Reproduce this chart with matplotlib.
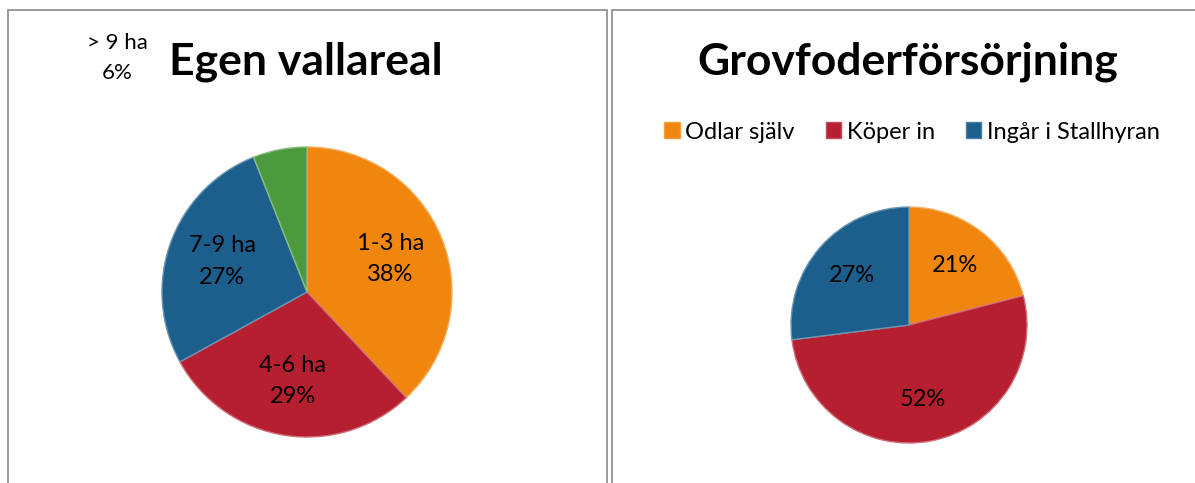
import matplotlib
matplotlib.use("Agg")
import matplotlib.pyplot as plt
from matplotlib.patches import Rectangle
import numpy as np

plt.rcParams["font.family"] = ["Lato", "DejaVu Sans"]

# Left chart: Egen vallareal
area_labels = ["1-3 ha", "4-6 ha", "7-9 ha", "> 9 ha"]
area_values = [38, 29, 27, 6]
area_colors = ["#F0860E", "#B51F30", "#1C5E8C", "#4C9A3E"]

# Right chart: Grovfoderförsörjning
feed_labels = ["Odlar själv", "Köper in", "Ingår i Stallhyran"]
feed_values = [21, 52, 27]
feed_colors = ["#F0860E", "#B51F30", "#1C5E8C"]

W, H = 1195, 483
fig = plt.figure(figsize=(W / 100, H / 100), dpi=100)


def px_axes(left, top, size):
    return fig.add_axes([left / W, (H - top - size) / H, size / W, size / H])


# panel borders
for x0, x1 in [(8, 607), (612, 1205)]:
    fig.patches.append(Rectangle((x0 / W, -0.05), (x1 - x0) / W, (H - 10) / H + 0.05,
                                 transform=fig.transFigure, fill=False,
                                 edgecolor="#8a8a8a", linewidth=1.2))


def lighten(c, f=0.35):
    rgb = np.array(matplotlib.colors.to_rgb(c))
    return tuple(rgb + (1 - rgb) * f)


# ---- left pie
ax1 = px_axes(162, 147, 290)
wedges, _ = ax1.pie(area_values, colors=area_colors, startangle=90, counterclock=False,
                    wedgeprops=dict(edgecolor="none"))
for w, c in zip(wedges, area_colors):
    w.set_edgecolor(lighten(c))
    w.set_linewidth(1.0)
for w, lab, v in list(zip(wedges, area_labels, area_values))[:3]:
    ang = np.deg2rad((w.theta1 + w.theta2) / 2)
    ax1.text(0.62 * np.cos(ang), 0.62 * np.sin(ang), f"{lab}\n{v}%",
             ha="center", va="center", fontsize=17, linespacing=1.6)
ax1.set_xlim(-1, 1)
ax1.set_ylim(-1, 1)
ax1.axis("off")
fig.text(117 / W, 1 - 58 / H, f"{area_labels[3]}\n{area_values[3]}%",
         ha="center", va="center", fontsize=16, linespacing=1.6)
fig.text(306 / W, 1 - 62 / H, "Egen vallareal", ha="center", va="center",
         fontsize=32, fontweight="bold")

# ---- right pie
ax2 = px_axes(791, 207, 236)
wedges2, _ = ax2.pie(feed_values, colors=feed_colors, startangle=90, counterclock=False,
                     wedgeprops=dict(edgecolor="none"))
for w, c in zip(wedges2, feed_colors):
    w.set_edgecolor(lighten(c))
    w.set_linewidth(1.0)
for w, v in zip(wedges2, feed_values):
    ang = np.deg2rad((w.theta1 + w.theta2) / 2)
    ax2.text(0.64 * np.cos(ang), 0.64 * np.sin(ang), f"{v}%",
             ha="center", va="center", fontsize=17)
ax2.set_xlim(-1, 1)
ax2.set_ylim(-1, 1)
ax2.axis("off")
fig.text(908 / W, 1 - 62 / H, "Grovfoderförsörjning", ha="center", va="center",
         fontsize=32, fontweight="bold")

handles = [Rectangle((0, 0), 1, 1, facecolor=c, edgecolor=lighten(c, 0.2)) for c in feed_colors]
fig.legend(handles, feed_labels, loc="center", bbox_to_anchor=(912 / W, 1 - 132 / H),
           ncol=3, frameon=False, fontsize=17, handlelength=0.65, handleheight=0.65,
           handletextpad=0.25, columnspacing=1.3)

fig.savefig("out.png", dpi=100)
